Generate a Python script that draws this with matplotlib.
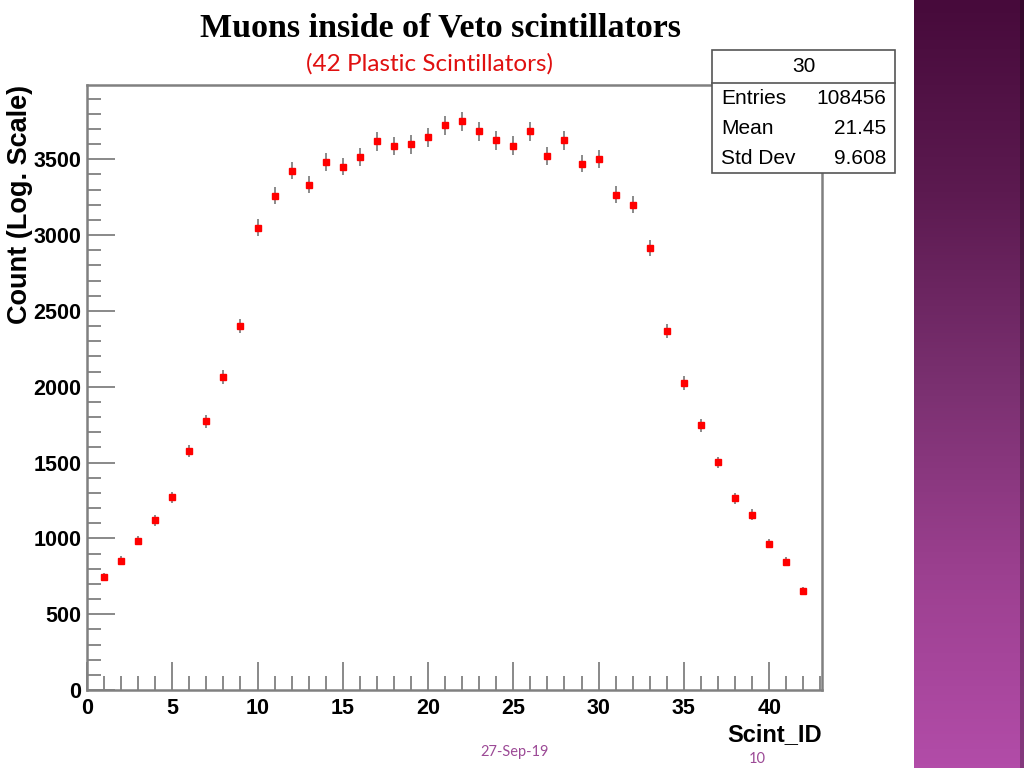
import numpy as np
import matplotlib
matplotlib.use("Agg")
import matplotlib.pyplot as plt
from matplotlib.ticker import MultipleLocator
from matplotlib.colors import LinearSegmentedColormap

# scintillator id vs counts
scint_id = np.arange(1, 43)
counts = [747, 853, 985, 1118, 1270, 1574, 1772, 2063, 2401, 3049,
          3261, 3426, 3333, 3485, 3452, 3512, 3618, 3585, 3598, 3644,
          3724, 3750, 3684, 3624, 3591, 3684, 3525, 3624, 3472, 3499,
          3267, 3201, 2917, 2368, 2024, 1746, 1501, 1263, 1157, 966,
          847, 655]
counts = np.array(counts)
errors = np.sqrt(counts)

stats_name = "30"
stats_rows = [("Entries", "108456"), ("Mean", "21.45"), ("Std Dev", "9.608")]

narrow = ['Liberation Sans Narrow', 'Liberation Sans', 'DejaVu Sans']

fig = plt.figure(figsize=(10.24, 7.68), dpi=100)
fig.patch.set_facecolor("white")

# purple side bar of the slide
bar = fig.add_axes([914/1024, 0, 110/1024, 1])
cmap = LinearSegmentedColormap.from_list("slide", ["#470a3b", "#5c1a50", "#7a3070", "#9c4090", "#b24ca8"])
grad = np.linspace(0, 1, 256).reshape(-1, 1)
bar.imshow(grad, aspect="auto", cmap=cmap, extent=[0, 1, 1, 0])
bar.axvspan(0.96, 1.0, color="black", alpha=0.25, lw=0)
bar.set_xlim(0, 1)
bar.axis("off")

ax = fig.add_axes([87/1024, 78/768, 735/1024, 605/768])
ax.errorbar(scint_id, counts, yerr=errors, fmt="none", ecolor="#777777", elinewidth=1.2, zorder=2)
ax.plot(scint_id, counts, "s", color="red", markersize=4.5, zorder=3)

ax.set_xlim(0, 43.1)
ax.set_ylim(0, 3990)
ax.xaxis.set_major_locator(MultipleLocator(5))
ax.xaxis.set_minor_locator(MultipleLocator(1))
ax.yaxis.set_major_locator(MultipleLocator(500))
ax.yaxis.set_minor_locator(MultipleLocator(100))
ax.tick_params(axis="both", which="major", direction="in", length=20, width=1.3, color="#808080")
ax.tick_params(axis="both", which="minor", direction="in", length=10, width=1.3, color="#808080")
ax.tick_params(top=False, right=False, which="both")
ax.tick_params(axis="x", pad=6)
ax.tick_params(axis="y", pad=4)
for lab in ax.get_xticklabels() + ax.get_yticklabels():
    lab.set_fontfamily(narrow)
    lab.set_fontweight("bold")
    lab.set_fontsize(15.5)
for sp in ax.spines.values():
    sp.set_color("#808080")
    sp.set_linewidth(1.8)

ax.set_xlabel("Scint_ID", family=narrow, fontsize=17, fontweight="bold", ha="right")
ax.xaxis.set_label_coords(1.0, -0.055)
ax.set_ylabel("Count (Log. Scale)", family=['Liberation Sans', 'DejaVu Sans'], fontsize=19.5,
              fontweight="bold", ha="right")
ax.yaxis.set_label_coords(-0.074, 1.0)

fig.text(440/1024, 1 - 28/768, "Muons inside of Veto scintillators", family=['Liberation Serif'],
         fontsize=24.5, fontweight="bold", ha="center", va="center")
fig.text(429/1024, 1 - 64/768, "(42 Plastic Scintillators)", family=['Lato', 'Open Sans', 'DejaVu Sans'],
         fontsize=17.5, color="#e01010", ha="center", va="center")

# stats box
sx0, sx1 = 712/1024, 895/1024
sy_top, sy_mid, sy_bot = 1 - 50/768, 1 - 83/768, 1 - 173/768
fig.add_artist(plt.Rectangle((sx0, sy_bot), sx1 - sx0, sy_top - sy_bot, transform=fig.transFigure,
                             facecolor="white", edgecolor="#555555", lw=1.2, zorder=5))
fig.add_artist(plt.Line2D([sx0, sx1], [sy_mid, sy_mid], transform=fig.transFigure,
                          color="#555555", lw=1.2, zorder=6))
fig.text((sx0 + sx1) / 2, 1 - 67/768, stats_name, family=narrow, fontsize=15,
         ha="center", va="center", zorder=7)
for i, (k, v) in enumerate(stats_rows):
    yy = 1 - (99 + i * 30) / 768
    fig.text(721/1024, yy, k, family=narrow, fontsize=15, ha="left", va="center", zorder=7)
    fig.text(886/1024, yy, v, family=narrow, fontsize=15, ha="right", va="center", zorder=7)

fig.text(515/1024, 1 - 752/768, "27-Sep-19", family=['Lato', 'Open Sans', 'DejaVu Sans'], fontsize=10.5,
         color="#9c4a96", ha="center", va="center")
fig.text(757/1024, 1 - 759/768, "10", family=['Lato', 'Open Sans', 'DejaVu Sans'], fontsize=10.5,
         color="#9c4a96", ha="center", va="center")

fig.savefig("out.png", dpi=100)
